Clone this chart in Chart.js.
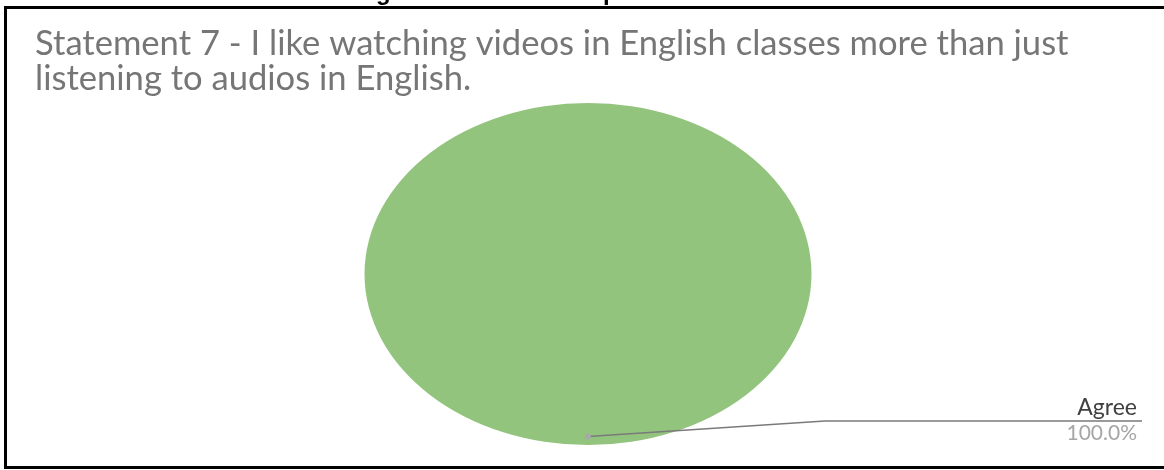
<!DOCTYPE html>
<html>
<head>
<meta charset="utf-8">
<script src="https://cdn.jsdelivr.net/npm/chart.js@4.4.1/dist/chart.umd.min.js"></script>
<style>
  html, body { margin: 0; padding: 0; background: #fff; }
  #wrap { position: relative; width: 1164px; height: 470px; overflow: hidden; }
  #frame {
    position: absolute; left: 4px; top: 6px; width: 1170px; height: 457px;
    border: 3px solid #000; box-sizing: content-box;
  }
  #c { position: absolute; left: 0; top: 0; }
</style>
</head>
<body>
<div id="wrap">
  <div id="frame"></div>
  <canvas id="c" width="1164" height="470"></canvas>
</div>
<script>
// Survey answers for statement 7
const categories = ['Agree'];
const shares = [100];
const titleLines = [
  'Statement 7 - I like watching videos in English classes more than just',
  'listening to audios in English.'
];

// Stretch the pie into the wide oval shape of the original sheet
const ovalPlugin = {
  id: 'oval',
  beforeDatasetsDraw(chart, args, opts) {
    const a = chart.chartArea;
    const cx = (a.left + a.right) / 2, cy = (a.top + a.bottom) / 2;
    const ctx = chart.ctx;
    ctx.save();
    ctx.translate(cx, cy);
    ctx.scale(opts.stretch, 1);
    ctx.translate(-cx, -cy);
  },
  afterDatasetsDraw(chart) {
    chart.ctx.restore();
  }
};

// Leader line with category name and percentage
const leaderPlugin = {
  id: 'leader',
  afterDraw(chart, args, opts) {
    const ctx = chart.ctx;
    const stretch = chart.options.plugins.oval.stretch;
    const meta = chart.getDatasetMeta(0);
    meta.data.forEach((arc, i) => {
      const p = arc.getProps(['x', 'y', 'startAngle', 'endAngle', 'outerRadius'], true);
      const mid = (p.startAngle + p.endAngle) / 2;
      const ax = p.x + Math.cos(mid) * p.outerRadius * 0.95 * stretch;
      const ay = p.y + Math.sin(mid) * p.outerRadius * 0.95;
      ctx.save();
      ctx.strokeStyle = '#7a7a7a';
      ctx.lineWidth = 1.6;
      ctx.beginPath();
      ctx.moveTo(ax, ay);
      ctx.lineTo(opts.bendX, opts.lineY);
      ctx.lineTo(opts.endX, opts.lineY);
      ctx.stroke();
      ctx.fillStyle = '#a8a8a8';
      ctx.beginPath();
      ctx.arc(ax, ay, 3, 0, Math.PI * 2);
      ctx.fill();
      ctx.textAlign = 'right';
      ctx.textBaseline = 'alphabetic';
      ctx.font = '23px Lato';
      ctx.fillStyle = '#404040';
      ctx.fillText(chart.data.labels[i], opts.textX, opts.lineY - 6);
      ctx.font = '21px Lato';
      ctx.fillStyle = '#a6a6a6';
      const v = chart.data.datasets[0].data[i];
      const total = chart.data.datasets[0].data.reduce((s, x) => s + x, 0);
      ctx.fillText((v / total * 100).toFixed(1) + '%', opts.textX, opts.lineY + 19);
      ctx.restore();
    });
    // descenders of the figure caption running above the frame
    ctx.save();
    ctx.font = 'bold 24px "Liberation Sans"';
    ctx.fillStyle = '#000';
    ctx.textBaseline = 'alphabetic';
    ctx.fillText('g', 376, 0);
    ctx.fillText('p', 603, 0);
    ctx.restore();
  }
};

new Chart(document.getElementById('c'), {
  type: 'pie',
  data: {
    labels: categories,
    datasets: [{
      data: shares,
      backgroundColor: ['rgb(147,196,125)'],
      borderWidth: 0
    }]
  },
  options: {
    responsive: false,
    animation: false,
    layout: { padding: { left: 35, right: 23, top: 0, bottom: 25 } },
    plugins: {
      legend: { display: false },
      tooltip: { enabled: false },
      title: {
        display: true,
        text: titleLines,
        align: 'start',
        color: '#767676',
        font: { family: 'Lato', size: 34.6, weight: 'normal', lineHeight: '35px' },
        padding: { top: 26.5, bottom: 6.5 }
      },
      oval: { stretch: 1.307 },
      leader: { bendX: 825, lineY: 421, endX: 1142, textX: 1137 }
    }
  },
  plugins: [ovalPlugin, leaderPlugin]
});
</script>
</body>
</html>
